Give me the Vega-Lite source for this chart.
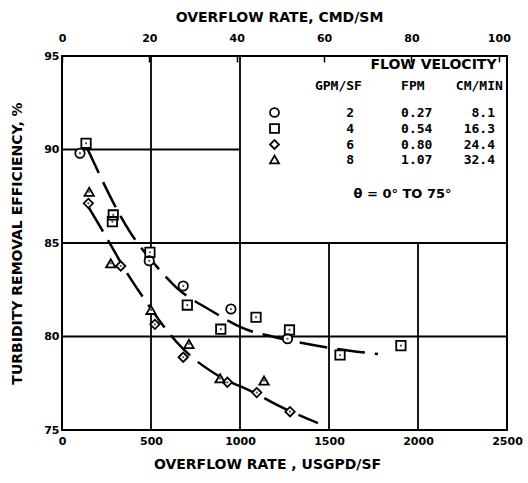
{
  "$schema": "https://vega.github.io/schema/vega-lite/v6.json",
  "width": 445,
  "height": 374,
  "autosize": {"type": "none"},
  "padding": {"left": 62, "top": 56, "right": 21, "bottom": 53},
  "background": "white",
  "resolve": {"axis": {"x": "independent", "y": "independent"}, "legend": {"shape": "independent"}},
  "config": {
    "view": {"stroke": "black", "strokeWidth": 2},
    "font": "DejaVu Sans",
    "axis": {
      "labelFont": "DejaVu Sans", "labelFontWeight": "bold", "labelFontSize": 11, "labelColor": "black",
      "titleFont": "DejaVu Sans", "titleFontWeight": "bold", "titleFontSize": 14, "titleColor": "black",
      "grid": false, "domain": false, "labelFlush": false
    },
    "legend": {
      "labelFont": "DejaVu Sans Mono", "labelFontWeight": "bold", "labelFontSize": 13, "labelColor": "black",
      "titleFont": "DejaVu Sans Mono", "titleFontWeight": "bold", "titleFontSize": 13, "titleColor": "black",
      "rowPadding": -1, "orient": "none"
    }
  },
  "datasets": {
    "points": [
      {"gpm": "2", "usgpd": 101, "eff": 89.8},
      {"gpm": "2", "usgpd": 490, "eff": 84.05},
      {"gpm": "2", "usgpd": 681, "eff": 82.7},
      {"gpm": "2", "usgpd": 949, "eff": 81.47},
      {"gpm": "2", "usgpd": 1267, "eff": 79.88},
      {"gpm": "4", "usgpd": 135, "eff": 90.33},
      {"gpm": "4", "usgpd": 288, "eff": 86.5},
      {"gpm": "4", "usgpd": 283, "eff": 86.14},
      {"gpm": "4", "usgpd": 494, "eff": 84.5},
      {"gpm": "4", "usgpd": 704, "eff": 81.68},
      {"gpm": "4", "usgpd": 892, "eff": 80.39},
      {"gpm": "4", "usgpd": 1090, "eff": 81.03},
      {"gpm": "4", "usgpd": 1278, "eff": 80.35},
      {"gpm": "4", "usgpd": 1562, "eff": 79.01},
      {"gpm": "4", "usgpd": 1904, "eff": 79.51},
      {"gpm": "6", "usgpd": 148, "eff": 87.12},
      {"gpm": "6", "usgpd": 330, "eff": 83.77},
      {"gpm": "6", "usgpd": 522, "eff": 80.65},
      {"gpm": "6", "usgpd": 681, "eff": 78.89},
      {"gpm": "6", "usgpd": 929, "eff": 77.55},
      {"gpm": "6", "usgpd": 1094, "eff": 77.0},
      {"gpm": "6", "usgpd": 1281, "eff": 75.98},
      {"gpm": "8", "usgpd": 153, "eff": 87.74},
      {"gpm": "8", "usgpd": 274, "eff": 83.91},
      {"gpm": "8", "usgpd": 500, "eff": 81.42},
      {"gpm": "8", "usgpd": 713, "eff": 79.6},
      {"gpm": "8", "usgpd": 888, "eff": 77.76},
      {"gpm": "8", "usgpd": 1135, "eff": 77.64}
    ],
    "curves": [
      {"curve": "upper", "usgpd": 140, "eff": 90.1},
      {"curve": "upper", "usgpd": 382, "eff": 85.59},
      {"curve": "upper", "usgpd": 534, "eff": 83.72},
      {"curve": "upper", "usgpd": 646, "eff": 82.59},
      {"curve": "upper", "usgpd": 831, "eff": 81.42},
      {"curve": "upper", "usgpd": 1017, "eff": 80.45},
      {"curve": "upper", "usgpd": 1242, "eff": 79.87},
      {"curve": "upper", "usgpd": 1506, "eff": 79.39},
      {"curve": "upper", "usgpd": 1775, "eff": 79.06},
      {"curve": "lower", "usgpd": 150, "eff": 86.9},
      {"curve": "lower", "usgpd": 242, "eff": 85.43},
      {"curve": "lower", "usgpd": 365, "eff": 83.4},
      {"curve": "lower", "usgpd": 478, "eff": 81.79},
      {"curve": "lower", "usgpd": 551, "eff": 80.8},
      {"curve": "lower", "usgpd": 674, "eff": 79.4},
      {"curve": "lower", "usgpd": 871, "eff": 77.94},
      {"curve": "lower", "usgpd": 1073, "eff": 77.03},
      {"curve": "lower", "usgpd": 1242, "eff": 76.18},
      {"curve": "lower", "usgpd": 1438, "eff": 75.37}
    ],
    "hgrid": [
      {"eff": 90, "from": 0, "to": 1000},
      {"eff": 85, "from": 0, "to": 2500},
      {"eff": 80, "from": 0, "to": 2500}
    ],
    "vgrid": [
      {"usgpd": 500, "from": 75, "to": 95},
      {"usgpd": 1000, "from": 75, "to": 95},
      {"usgpd": 1500, "from": 75, "to": 85},
      {"usgpd": 2000, "from": 75, "to": 85}
    ]
  },
  "layer": [
    {
      "data": {"name": "hgrid"},
      "mark": {"type": "rule", "stroke": "black", "strokeWidth": 1.8},
      "encoding": {
        "y": {"field": "eff", "type": "quantitative", "scale": {"domain": [75, 95], "nice": false, "zero": false},
          "axis": {"orient": "left", "values": [75, 80, 85, 90, 95], "ticks": false, "labelPadding": 3,
            "title": "TURBIDITY REMOVAL EFFICIENCY, %", "titleFontSize": 14, "titlePadding": 19}},
        "x": {"field": "from", "type": "quantitative", "scale": {"domain": [0, 2500], "nice": false},
          "axis": {"orient": "bottom", "values": [0, 500, 1000, 1500, 2000, 2500], "format": "d", "ticks": false, "labelPadding": 5,
            "title": "OVERFLOW RATE , USGPD/SF", "titleX": 205, "titlePadding": 11}},
        "x2": {"field": "to"}
      }
    },
    {
      "data": {"name": "vgrid"},
      "mark": {"type": "rule", "stroke": "black", "strokeWidth": 1.8},
      "encoding": {
        "x": {"field": "usgpd", "type": "quantitative",
          "axis": {"orient": "top", "values": [0, 490.8, 981.6, 1472.4, 1963.2, 2454],
            "labelExpr": "format(round(datum.value/24.54),'d')",
            "title": "OVERFLOW RATE, CMD/SM", "titleX": 217, "ticks": true, "tickSize": -6, "tickColor": "black", "tickWidth": 1.5,
            "labelPadding": 19, "titlePadding": 8}},
        "y": {"field": "from", "type": "quantitative", "axis": null},
        "y2": {"field": "to"}
      }
    },
    {
      "data": {"name": "curves"},
      "mark": {"type": "line", "stroke": "black", "strokeWidth": 2.5, "strokeDash": [28, 10], "interpolate": "monotone"},
      "encoding": {
        "x": {"field": "usgpd", "type": "quantitative", "axis": null},
        "y": {"field": "eff", "type": "quantitative", "axis": null},
        "detail": {"field": "curve", "type": "nominal"}
      }
    },
    {
      "data": {"name": "points"},
      "mark": {"type": "point", "filled": true, "color": "white", "size": 88, "opacity": 1},
      "encoding": {
        "x": {"field": "usgpd", "type": "quantitative", "axis": null},
        "y": {"field": "eff", "type": "quantitative", "axis": null},
        "shape": {"field": "gpm", "type": "nominal",
          "scale": {"domain": ["2", "4", "6", "8"], "range": ["circle", "square", "diamond", "triangle-up"]},
          "legend": null}
      }
    },
    {
      "data": {"name": "points"},
      "mark": {"type": "point", "filled": false, "color": "black", "strokeWidth": 1.8, "size": 88, "opacity": 1},
      "encoding": {
        "x": {"field": "usgpd", "type": "quantitative", "axis": null},
        "y": {"field": "eff", "type": "quantitative", "axis": null},
        "shape": {"field": "gpm", "type": "nominal",
          "scale": {"domain": ["2", "4", "6", "8"], "range": ["circle", "square", "diamond", "triangle-up"]},
          "legend": {
            "title": "\u200b\u00a0\u00a0\u00a0\u00a0\u00a0\u00a0GPM/SF\u00a0\u00a0\u00a0\u00a0\u00a0FPM\u00a0\u00a0\u00a0\u00a0CM/MIN",
            "labelExpr": "datum.label == '2' ? '\u200b\u00a0\u00a0\u00a0\u00a02\u00a0\u00a0\u00a0\u00a0\u00a0\u00a00.27\u00a0\u00a0\u00a0\u00a0\u00a08.1' : datum.label == '4' ? '\u200b\u00a0\u00a0\u00a0\u00a04\u00a0\u00a0\u00a0\u00a0\u00a0\u00a00.54\u00a0\u00a0\u00a0\u00a016.3' : datum.label == '6' ? '\u200b\u00a0\u00a0\u00a0\u00a06\u00a0\u00a0\u00a0\u00a0\u00a0\u00a00.80\u00a0\u00a0\u00a0\u00a024.4' : '\u200b\u00a0\u00a0\u00a0\u00a08\u00a0\u00a0\u00a0\u00a0\u00a0\u00a01.07\u00a0\u00a0\u00a0\u00a032.4'",
            "legendX": 206, "legendY": 24, "labelOffset": 34,
            "symbolSize": 80, "symbolStrokeWidth": 1.8,
            "titlePadding": 13, "labelLimit": 400, "titleLimit": 400}}
      }
    },
    {
      "data": {"name": "points"},
      "mark": {"type": "point", "filled": true, "fill": "black", "size": 5, "shape": "circle"},
      "encoding": {
        "x": {"field": "usgpd", "type": "quantitative", "axis": null},
        "y": {"field": "eff", "type": "quantitative", "axis": null}
      }
    },
    {
      "data": {"values": [{"note": "FLOW VELOCITY"}]},
      "mark": {"type": "text", "font": "DejaVu Sans", "fontWeight": "bold", "fontSize": 14, "align": "center", "baseline": "middle", "color": "black"},
      "encoding": {
        "text": {"field": "note"},
        "x": {"datum": 2087, "type": "quantitative", "axis": null},
        "y": {"datum": 94.52, "type": "quantitative", "axis": null}
      }
    },
    {
      "data": {"values": [{"note": "θ = 0° TO 75°"}]},
      "mark": {"type": "text", "font": "DejaVu Sans", "fontWeight": "bold", "fontSize": 13, "align": "center", "baseline": "middle", "color": "black"},
      "encoding": {
        "text": {"field": "note"},
        "x": {"datum": 1913, "type": "quantitative", "axis": null},
        "y": {"datum": 87.62, "type": "quantitative", "axis": null}
      }
    }
  ]
}
